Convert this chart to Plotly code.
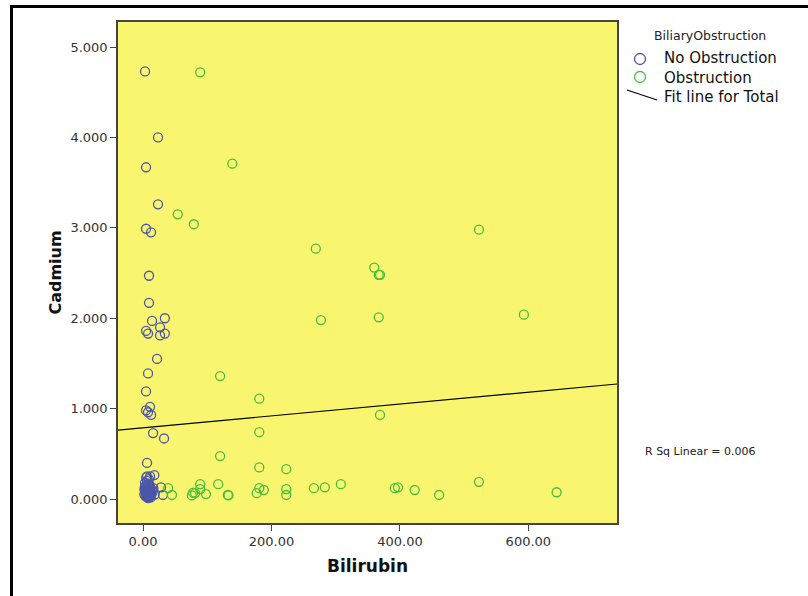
import plotly.graph_objects as go

# ---- data ----
no_obs_bilirubin = [3.1, 23.3, 4.7, 23.3, 4.7, 12.5, 9.3, 9.3, 14.0, 34.0, 26.5, 4.7, 7.8, 26.5, 34.0,
                    21.8, 7.8, 4.7, 4.7, 10.9, 7.8, 12.5, 15.6, 32.7, 6.2, 6.2, 11.0, 17.6, 28.0, 31.0,
                    2, 4, 5, 6, 7, 8, 9, 10, 11, 12, 3, 5, 7, 9, 11, 13, 4, 6, 8, 10, 12, 14, 6, 8, 10,
                    3, 16, 18, 5, 9, 2, 4, 6, 8, 10, 12, 3, 7, 11, 15]
no_obs_cadmium = [4.73, 4.00, 3.67, 3.26, 2.99, 2.95, 2.47, 2.17, 1.97, 2.00, 1.90, 1.86, 1.83, 1.81, 1.83,
                  1.55, 1.39, 1.19, 0.98, 1.02, 0.96, 0.93, 0.73, 0.67, 0.40, 0.25, 0.25, 0.265, 0.13, 0.045,
                  0.05, 0.03, 0.08, 0.12, 0.04, 0.15, 0.06, 0.10, 0.03, 0.07, 0.18, 0.14, 0.02, 0.09, 0.13,
                  0.05, 0.11, 0.06, 0.17, 0.04, 0.08, 0.10, 0.20, 0.01, 0.16, 0.08, 0.12, 0.05, 0.24, 0.22,
                  0.11, 0.09, 0.03, 0.07, 0.12, 0.02, 0.14, 0.10, 0.06, 0.08]

obs_bilirubin = [89, 139, 54, 79, 269, 523, 360, 367, 369, 277, 367, 593, 120, 181, 369, 181, 120, 181, 223,
                 89, 117, 78, 76, 98, 89, 132, 133, 177, 181, 188, 223, 223, 266, 283, 308, 392, 397, 423,
                 461, 523, 644, 39, 45, 81]
obs_cadmium = [4.72, 3.71, 3.15, 3.04, 2.77, 2.98, 2.56, 2.48, 2.48, 1.98, 2.01, 2.04, 1.36, 1.11, 0.93, 0.74,
               0.475, 0.35, 0.33,
               0.165, 0.165, 0.07, 0.04, 0.055, 0.11, 0.045, 0.04, 0.065, 0.12, 0.10, 0.11, 0.045, 0.12, 0.13,
               0.165, 0.12, 0.13, 0.10, 0.045, 0.19, 0.075, 0.12, 0.045, 0.066]

series_names = ["No Obstruction", "Obstruction"]
fit_name = "Fit line for Total"
legend_title = "BiliaryObstruction"

fit_intercept = 0.789
fit_slope = 0.000655
r_sq_text = "R Sq Linear = 0.006"

x_range = [-39, 738]
y_range = [-0.265, 5.277]
x_ticks = [0, 200, 400, 600]
y_ticks = [0, 1, 2, 3, 4, 5]

BLUE = "#4B57A8"
GREEN = "#45BE3C"
FONT = "DejaVu Sans"

# plot-area geometry (pixels)
L, R, T, B = 118, 617, 22, 523
PW, PH = R - L, B - T


def px(x):
    return (x - L) / PW


def py(y):
    return 1 - (y - T) / PH


fig = go.Figure()
fig.add_trace(go.Scatter(
    x=no_obs_bilirubin, y=no_obs_cadmium, mode="markers", name=series_names[0], showlegend=False,
    marker=dict(symbol="circle-open", size=9, color=BLUE, line=dict(width=1.3, color=BLUE)),
))
fig.add_trace(go.Scatter(
    x=obs_bilirubin, y=obs_cadmium, mode="markers", name=series_names[1], showlegend=False,
    marker=dict(symbol="circle-open", size=9, color=GREEN, line=dict(width=1.3, color=GREEN)),
))
fig.add_trace(go.Scatter(
    x=x_range, y=[fit_intercept + fit_slope * v for v in x_range], mode="lines",
    name=fit_name, showlegend=False, line=dict(color="black", width=1.2),
))

legend_lines = "<br>".join(series_names + [fit_name])

annotations = [
    dict(text=r_sq_text, x=px(700), y=py(451), xanchor="center", yanchor="middle",
         font=dict(size=11, color="#222222")),
    dict(text=legend_title, x=px(710), y=py(36), xanchor="center", yanchor="middle",
         font=dict(size=12.5, color="#222222")),
    dict(text=legend_lines, x=px(662), y=py(77.5), xanchor="left", yanchor="middle", align="left",
         font=dict(size=15, color="#111111")),
]
for a in annotations:
    a.update(xref="paper", yref="paper", showarrow=False)

shapes = [
    # outer frame of the picture
    dict(type="line", xref="paper", yref="paper", x0=px(11.5), x1=px(11.5), y0=py(5), y1=py(620),
         line=dict(color="black", width=3)),
    dict(type="line", xref="paper", yref="paper", x0=px(10), x1=px(830), y0=py(6.5), y1=py(6.5),
         line=dict(color="black", width=3)),
    # legend symbols
    dict(type="circle", xref="paper", yref="paper", xsizemode="pixel", ysizemode="pixel",
         xanchor=px(640), yanchor=py(59), x0=-5.5, x1=5.5, y0=-5.5, y1=5.5,
         line=dict(color=BLUE, width=1.3)),
    dict(type="circle", xref="paper", yref="paper", xsizemode="pixel", ysizemode="pixel",
         xanchor=px(640), yanchor=py(77), x0=-5.5, x1=5.5, y0=-5.5, y1=5.5,
         line=dict(color=GREEN, width=1.3)),
    dict(type="line", xref="paper", yref="paper", x0=px(627), y0=py(90), x1=px(657), y1=py(100),
         line=dict(color="black", width=1.2)),
]

fig.update_layout(
    width=808, height=596,
    margin=dict(l=L, r=808 - R, t=T, b=596 - B),
    paper_bgcolor="white",
    plot_bgcolor="#FAF56E",
    font=dict(family=FONT, color="#333333"),
    showlegend=False,
    xaxis=dict(
        range=x_range, tickvals=x_ticks, tickformat=".2f",
        showgrid=False, zeroline=False,
        showline=True, linecolor="#444444", linewidth=1.5, mirror=True,
        ticks="outside", ticklen=6, tickcolor="#444444",
        tickfont=dict(size=13, color="#333333"),
        title=dict(text="<b>Bilirubin</b>", font=dict(size=17, color="#111111"), standoff=12),
    ),
    yaxis=dict(
        range=y_range, tickvals=y_ticks, tickformat=".3f",
        showgrid=False, zeroline=False,
        showline=True, linecolor="#444444", linewidth=1.5, mirror=True,
        ticks="outside", ticklen=6, tickcolor="#444444",
        tickfont=dict(size=13, color="#333333"),
        title=dict(text="<b>Cadmium</b>", font=dict(size=16, color="#111111"), standoff=5),
    ),
    annotations=annotations,
    shapes=shapes,
)

fig.write_html("out.html")
